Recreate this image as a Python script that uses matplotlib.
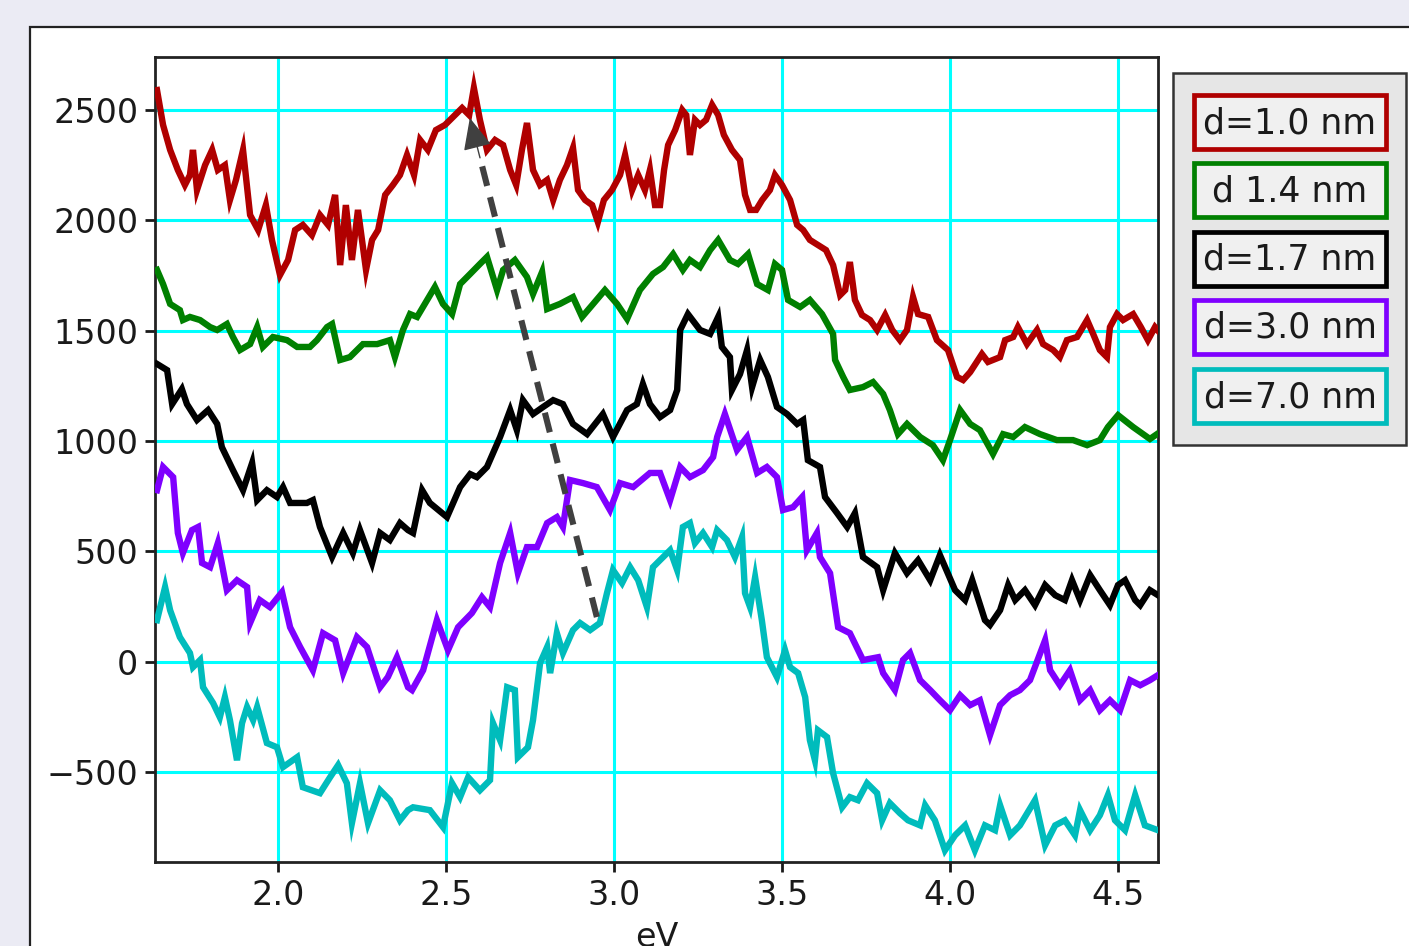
import matplotlib
matplotlib.use('Agg')
import matplotlib.pyplot as plt
from matplotlib.patches import Rectangle

# ---------------- data ----------------
ev_red = [1.640, 1.658, 1.679, 1.702, 1.723, 1.738, 1.747, 1.759, 1.783, 1.804, 1.821, 1.842, 1.857, 1.875,
          1.896, 1.917, 1.941, 1.964, 1.982, 2.006, 2.030, 2.051, 2.074, 2.101, 2.125, 2.149, 2.170, 2.185,
          2.202, 2.220, 2.238, 2.262, 2.280, 2.298, 2.319, 2.342, 2.363, 2.384, 2.405, 2.423, 2.446, 2.470,
          2.497, 2.527, 2.548, 2.569, 2.583, 2.601, 2.622, 2.646, 2.670, 2.691, 2.709, 2.726, 2.741, 2.759,
          2.780, 2.801, 2.819, 2.839, 2.860, 2.878, 2.893, 2.914, 2.935, 2.952, 2.970, 2.994, 3.018, 3.033,
          3.054, 3.072, 3.092, 3.107, 3.122, 3.137, 3.149, 3.161, 3.182, 3.203, 3.215, 3.226, 3.241, 3.256,
          3.274, 3.292, 3.310, 3.327, 3.351, 3.375, 3.390, 3.405, 3.423, 3.441, 3.464, 3.479, 3.500, 3.524,
          3.545, 3.563, 3.583, 3.607, 3.631, 3.652, 3.673, 3.688, 3.702, 3.717, 3.738, 3.762, 3.783, 3.807,
          3.828, 3.851, 3.872, 3.890, 3.905, 3.935, 3.961, 3.994, 4.021, 4.039, 4.060, 4.095, 4.113, 4.149,
          4.164, 4.188, 4.202, 4.229, 4.259, 4.277, 4.307, 4.327, 4.348, 4.378, 4.408, 4.426, 4.446, 4.467,
          4.476, 4.497, 4.515, 4.545, 4.568, 4.589, 4.610, 4.619]
val_red = [2590, 2432, 2319, 2228, 2160, 2205, 2319, 2137, 2250, 2319, 2228, 2250, 2092, 2183,
           2319, 2024, 1956, 2069, 1911, 1752, 1820, 1956, 1979, 1933, 2024, 1979, 2115, 1797,
           2069, 1820, 2047, 1775, 1911, 1956, 2115, 2160, 2205, 2296, 2205, 2364, 2319, 2409,
           2432, 2477, 2509, 2477, 2600, 2455, 2319, 2364, 2341, 2228, 2160, 2319, 2441, 2228,
           2160, 2183, 2092, 2183, 2250, 2328, 2137, 2092, 2069, 1992, 2092, 2137, 2205, 2296,
           2137, 2205, 2137, 2228, 2069, 2069, 2228, 2341, 2409, 2500, 2477, 2296, 2455, 2432,
           2455, 2523, 2477, 2387, 2319, 2273, 2115, 2047, 2047, 2092, 2137, 2205, 2160, 2092,
           1979, 1956, 1911, 1888, 1865, 1797, 1661, 1684, 1811, 1639, 1571, 1548, 1503, 1571,
           1503, 1457, 1503, 1652, 1575, 1562, 1457, 1412, 1290, 1276, 1312, 1394, 1358, 1380,
           1457, 1471, 1516, 1439, 1503, 1439, 1412, 1380, 1457, 1471, 1548, 1485, 1412, 1380,
           1516, 1575, 1548, 1575, 1516, 1457, 1516, 1500]

ev_green = [1.640, 1.658, 1.679, 1.708, 1.717, 1.738, 1.768, 1.798, 1.819, 1.848, 1.866, 1.887, 1.917, 1.938,
            1.955, 1.985, 2.027, 2.057, 2.095, 2.116, 2.146, 2.161, 2.185, 2.214, 2.253, 2.295, 2.333, 2.348,
            2.372, 2.393, 2.414, 2.444, 2.467, 2.491, 2.518, 2.542, 2.572, 2.601, 2.622, 2.652, 2.670, 2.705,
            2.741, 2.759, 2.786, 2.801, 2.839, 2.878, 2.905, 2.938, 2.973, 3.009, 3.039, 3.077, 3.116, 3.146,
            3.176, 3.205, 3.226, 3.256, 3.286, 3.310, 3.345, 3.369, 3.399, 3.426, 3.458, 3.479, 3.500, 3.518,
            3.554, 3.583, 3.619, 3.652, 3.658, 3.682, 3.702, 3.741, 3.771, 3.801, 3.821, 3.845, 3.872, 3.911,
            3.949, 3.979, 4.000, 4.030, 4.060, 4.089, 4.128, 4.158, 4.188, 4.223, 4.268, 4.318, 4.366, 4.408,
            4.446, 4.470, 4.500, 4.545, 4.595, 4.616]
val_green = [1775, 1711, 1621, 1593, 1548, 1562, 1548, 1516, 1503, 1530, 1471, 1412, 1439, 1516,
             1426, 1471, 1457, 1426, 1426, 1457, 1516, 1530, 1367, 1380, 1439, 1439, 1457, 1380,
             1503, 1575, 1562, 1639, 1698, 1621, 1575, 1711, 1757, 1802, 1834, 1684, 1775, 1820,
             1743, 1666, 1766, 1598, 1621, 1652, 1562, 1621, 1684, 1621, 1553, 1684, 1757, 1788,
             1847, 1775, 1820, 1788, 1865, 1911, 1820, 1802, 1847, 1711, 1684, 1802, 1775, 1639,
             1607, 1639, 1575, 1485, 1367, 1290, 1231, 1244, 1267, 1213, 1140, 1031, 1077, 1018,
             981, 913, 1004, 1140, 1077, 1049, 941, 1031, 1018, 1063, 1031, 1004, 1004, 981,
             1004, 1063, 1117, 1063, 1009, 1031]

ev_black = [1.640, 1.670, 1.685, 1.714, 1.729, 1.759, 1.792, 1.819, 1.833, 1.866, 1.896, 1.923, 1.938, 1.967,
            1.997, 2.015, 2.036, 2.086, 2.104, 2.125, 2.161, 2.194, 2.223, 2.244, 2.280, 2.304, 2.333, 2.363,
            2.387, 2.402, 2.429, 2.452, 2.503, 2.542, 2.572, 2.592, 2.622, 2.661, 2.691, 2.711, 2.729, 2.759,
            2.789, 2.819, 2.848, 2.878, 2.920, 2.967, 2.997, 3.039, 3.068, 3.086, 3.107, 3.137, 3.167, 3.188,
            3.197, 3.220, 3.256, 3.286, 3.310, 3.321, 3.345, 3.351, 3.375, 3.396, 3.411, 3.435, 3.458, 3.485,
            3.515, 3.545, 3.563, 3.577, 3.613, 3.628, 3.664, 3.694, 3.717, 3.741, 3.783, 3.801, 3.836, 3.872,
            3.905, 3.941, 3.970, 4.015, 4.045, 4.066, 4.104, 4.119, 4.149, 4.173, 4.194, 4.223, 4.253, 4.283,
            4.313, 4.342, 4.363, 4.387, 4.417, 4.446, 4.476, 4.500, 4.521, 4.551, 4.566, 4.595, 4.619]
val_black = [1349, 1321, 1167, 1235, 1167, 1095, 1140, 1077, 972, 868, 777, 900, 732, 777,
             746, 791, 719, 719, 732, 610, 474, 583, 492, 596, 447, 583, 551, 628,
             596, 583, 777, 719, 655, 791, 850, 836, 882, 1018, 1140, 1049, 1185, 1122,
             1154, 1185, 1167, 1077, 1031, 1122, 1018, 1140, 1167, 1258, 1167, 1108, 1140, 1231,
             1503, 1575, 1503, 1485, 1562, 1426, 1380, 1231, 1303, 1412, 1244, 1367, 1290, 1154,
             1122, 1077, 1095, 913, 882, 746, 673, 610, 673, 474, 428, 324, 492, 401,
             460, 369, 483, 324, 279, 369, 188, 166, 233, 347, 279, 324, 256, 347,
             301, 279, 369, 279, 392, 324, 256, 347, 369, 279, 256, 324, 301]

ev_purple = [1.640, 1.658, 1.688, 1.702, 1.717, 1.744, 1.762, 1.774, 1.798, 1.821, 1.848, 1.878, 1.908, 1.917,
             1.946, 1.976, 2.012, 2.036, 2.066, 2.104, 2.134, 2.170, 2.194, 2.235, 2.265, 2.304, 2.327, 2.354,
             2.387, 2.399, 2.432, 2.473, 2.506, 2.536, 2.577, 2.607, 2.631, 2.661, 2.691, 2.714, 2.741, 2.771,
             2.801, 2.830, 2.848, 2.869, 2.908, 2.949, 2.988, 3.018, 3.057, 3.107, 3.137, 3.167, 3.197, 3.226,
             3.265, 3.295, 3.307, 3.330, 3.366, 3.396, 3.426, 3.455, 3.485, 3.503, 3.533, 3.560, 3.574, 3.604,
             3.613, 3.643, 3.667, 3.702, 3.741, 3.786, 3.801, 3.836, 3.860, 3.881, 3.911, 3.941, 3.970, 4.000,
             4.030, 4.060, 4.089, 4.119, 4.149, 4.179, 4.208, 4.238, 4.283, 4.298, 4.327, 4.357, 4.387, 4.417,
             4.446, 4.476, 4.506, 4.536, 4.566, 4.595, 4.619]
val_purple = [777, 882, 836, 583, 492, 596, 610, 447, 428, 537, 324, 369, 338, 175,
              279, 247, 315, 156, 66, -39, 129, 97, -52, 111, 66, -116, -70, 20,
              -116, -129, -39, 188, 52, 156, 220, 292, 247, 447, 583, 401, 519, 519,
              628, 655, 610, 823, 809, 791, 687, 809, 791, 855, 855, 732, 882, 836,
              868, 927, 1018, 1122, 959, 1018, 855, 882, 836, 687, 700, 746, 505, 583,
              474, 401, 156, 129, 7, 20, -52, -129, 7, 39, -84, -129, -175, -220,
              -152, -197, -175, -333, -197, -152, -129, -84, 97, -39, -107, -39, -175, -129,
              -220, -175, -220, -84, -107, -84, -61]

ev_cyan = [1.640, 1.664, 1.679, 1.708, 1.738, 1.747, 1.768, 1.777, 1.807, 1.827, 1.842, 1.857, 1.878, 1.893,
           1.908, 1.926, 1.938, 1.967, 1.997, 2.015, 2.057, 2.074, 2.125, 2.155, 2.179, 2.205, 2.220, 2.244,
           2.268, 2.304, 2.333, 2.363, 2.387, 2.402, 2.452, 2.491, 2.518, 2.542, 2.566, 2.601, 2.631, 2.640,
           2.661, 2.682, 2.705, 2.714, 2.744, 2.759, 2.780, 2.801, 2.810, 2.830, 2.848, 2.878, 2.899, 2.929,
           2.958, 2.979, 2.997, 3.024, 3.048, 3.072, 3.098, 3.116, 3.137, 3.167, 3.188, 3.205, 3.226, 3.241,
           3.265, 3.292, 3.307, 3.336, 3.360, 3.381, 3.390, 3.405, 3.420, 3.440, 3.455, 3.485, 3.509, 3.524,
           3.548, 3.569, 3.583, 3.598, 3.607, 3.634, 3.652, 3.679, 3.702, 3.726, 3.753, 3.783, 3.798, 3.821,
           3.851, 3.875, 3.911, 3.926, 3.955, 3.985, 4.015, 4.045, 4.074, 4.104, 4.134, 4.149, 4.179, 4.208,
           4.253, 4.283, 4.313, 4.342, 4.372, 4.387, 4.417, 4.446, 4.470, 4.491, 4.521, 4.551, 4.580, 4.619]
val_cyan = [188, 338, 233, 111, 39, -25, 7, -116, -188, -252, -161, -265, -447, -279,
            -206, -265, -206, -369, -388, -478, -433, -569, -596, -524, -469, -551, -732, -551,
            -732, -583, -628, -719, -673, -660, -673, -750, -551, -614, -524, -583, -537, -279,
            -356, -116, -129, -433, -388, -265, -7, 66, -52, 129, 39, 143, 175, 143,
            175, 310, 415, 356, 428, 369, 247, 428, 460, 505, 415, 610, 628, 537,
            583, 519, 596, 551, 474, 564, 310, 247, 383, 188, 20, -70, 52, -25,
            -52, -161, -356, -447, -311, -342, -505, -660, -614, -628, -551, -596, -719, -641,
            -687, -719, -742, -651, -719, -855, -787, -742, -855, -742, -764, -651, -787, -742,
            -628, -832, -742, -719, -787, -673, -764, -696, -605, -719, -764, -605, -742, -764]

series_labels = ['d=1.0 nm', 'd 1.4 nm', 'd=1.7 nm', 'd=3.0 nm', 'd=7.0 nm']
series_colors = ['#b00000', '#008000', '#000000', '#7f00ff', '#00bcbc']
xticks = [2.0, 2.5, 3.0, 3.5, 4.0, 4.5]
yticks = [-500, 0, 500, 1000, 1500, 2000, 2500]
x_label = 'eV'

# dashed arrow annotation (tail -> tip), data coordinates
arrow_tail = (2.949, 202)
arrow_tip = (2.571, 2464)

# ---------------- layout ----------------
W, H = 1409, 946
fig = plt.figure(figsize=(W / 100, H / 100), dpi=100, facecolor='#ebebf4')


def fx(px):
    return px / W


def fy(py):
    return 1 - py / H


panel = Rectangle((fx(30), -0.05), 1.1, fy(27) + 0.05, transform=fig.transFigure,
                  fc='white', ec='#222222', lw=1.6, zorder=-5)
fig.patches.append(panel)

ax = fig.add_axes([fx(155), fy(862), fx(1158) - fx(155), fy(57) - fy(862)])
ax.set_zorder(2)
ax.set_facecolor('white')

evs = [ev_red, ev_green, ev_black, ev_purple, ev_cyan]
vals = [val_red, val_green, val_black, val_purple, val_cyan]
for e, v, c, lab in zip(evs, vals, series_colors, series_labels):
    ax.plot(e, v, color=c, lw=4.6, label=lab, solid_joinstyle='miter', zorder=3)

ax.set_xlim(1.634, 4.619)
ax.set_ylim(-908, 2740)
ax.set_xticks(xticks)
ax.set_xticklabels([f'{t:.1f}' for t in xticks])
ax.set_yticks(yticks)
ax.set_yticklabels([f'{t}'.replace('-', '\u2212') for t in yticks])
ax.grid(True, color='#00ffff', lw=2.2, zorder=1)
ax.set_axisbelow(True)
ax.tick_params(direction='out', length=7, width=2, labelsize=24, pad=5, colors='#1a1a1a')
for s in ax.spines.values():
    s.set_linewidth(2)
    s.set_color('#222222')
ax.text(0.5, -0.073, x_label, transform=ax.transAxes, ha='center', va='top',
        fontsize=24, color='#1a1a1a', clip_on=False)

# arrow: dashed shaft + solid head
neck = (arrow_tip[0] + 0.08 * (arrow_tail[0] - arrow_tip[0]),
        arrow_tip[1] + 0.08 * (arrow_tail[1] - arrow_tip[1]))
ax.plot([arrow_tail[0], neck[0]], [arrow_tail[1], neck[1]], color='#404040', lw=4.4,
        dashes=(3.3, 1.9), zorder=5, solid_capstyle='butt', dash_capstyle='butt')
ax.annotate('', xy=arrow_tip, xytext=neck,
            arrowprops=dict(arrowstyle='-|>,head_length=2.0,head_width=0.9',
                            color='#404040', lw=1, shrinkA=0, shrinkB=0),
            zorder=6)

# legend drawn as boxes
outer = Rectangle((fx(1173), fy(445)), fx(1406) - fx(1173), fy(73) - fy(445),
                  transform=fig.transFigure, fc='#e6e6e6', ec='#333333', lw=1.8, zorder=5)
fig.patches.append(outer)
tops = [95, 163, 232, 300, 369]
for top, lab, c in zip(tops, series_labels, series_colors):
    r = Rectangle((fx(1194), fy(top + 54)), fx(1386) - fx(1194), fy(top) - fy(top + 54),
                  transform=fig.transFigure, fc='#f0f0f0', ec=c, lw=3.4, zorder=6)
    fig.patches.append(r)
    fig.text(fx(1290), fy(top + 28), lab, ha='center', va='center', fontsize=25,
             color='#1a1a1a', zorder=7)

fig.savefig('out.png', dpi=100, facecolor=fig.get_facecolor())
